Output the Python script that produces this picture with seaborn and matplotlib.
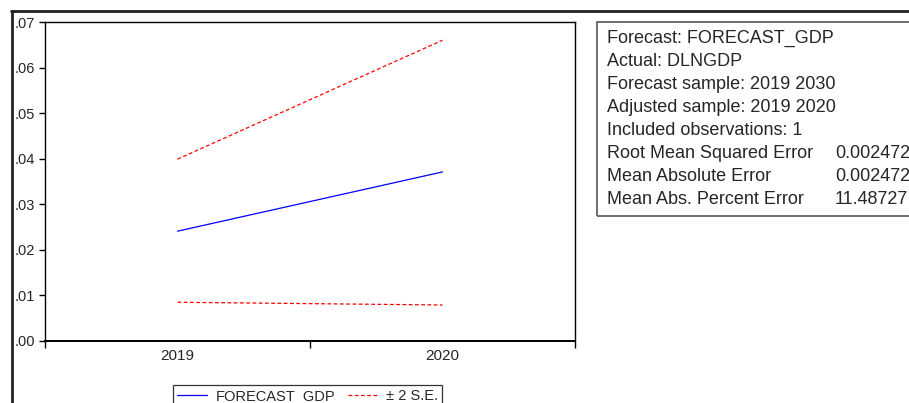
import matplotlib
matplotlib.use("Agg")
import matplotlib.pyplot as plt
from matplotlib.lines import Line2D
from matplotlib.patches import Rectangle
from matplotlib.ticker import FuncFormatter, FixedLocator
import seaborn as sns
import pandas as pd

years = ["2019", "2020"]
forecast_gdp = [0.0241, 0.0371]
upper_band = [0.0399, 0.0660]
lower_band = [0.0085, 0.0079]
y_ticks = [0.00, 0.01, 0.02, 0.03, 0.04, 0.05, 0.06, 0.07]

stats_labels = ["Forecast: FORECAST_GDP", "Actual: DLNGDP", "Forecast sample: 2019 2030",
                "Adjusted sample: 2019 2020", "Included observations: 1",
                "Root Mean Squared Error", "Mean Absolute Error", "Mean Abs. Percent Error"]
stats_values = ["", "", "", "", "", "0.002472", "0.002472", "11.48727"]

sns.set_style("white")
plt.rcParams["font.family"] = ["Liberation Sans", "DejaVu Sans"]

W, H = 909, 403
fig = plt.figure(figsize=(W / 100, H / 100), dpi=100)
ax = fig.add_axes([45 / W, 1 - 341 / H, (575 - 45) / W, (341 - 22) / H])

xpos = list(range(len(years)))
df_f = pd.DataFrame({"x": xpos, "y": forecast_gdp})
df_u = pd.DataFrame({"x": xpos, "y": upper_band})
df_l = pd.DataFrame({"x": xpos, "y": lower_band})

sns.lineplot(data=df_f, x="x", y="y", ax=ax, color="#0000ff", lw=0.9, label="FORECAST_GDP")
sns.lineplot(data=df_u, x="x", y="y", ax=ax, color="#ff0000", lw=0.9, linestyle=(0, (3, 2)),
             label="± 2 S.E.")
sns.lineplot(data=df_l, x="x", y="y", ax=ax, color="#ff0000", lw=0.9, linestyle=(0, (3, 2)))

ax.set_xlim(-0.5, len(years) - 0.5)
ax.set_ylim(0, 0.07)
ax.set_xlabel("")
ax.set_ylabel("")

ax.xaxis.set_major_locator(FixedLocator(xpos))
ax.set_xticklabels(years)
ax.xaxis.set_minor_locator(FixedLocator([-0.5, 0.5, 1.5]))
ax.tick_params(axis="x", which="major", length=0, pad=6, labelsize=11)
ax.tick_params(axis="x", which="minor", bottom=True, length=5, width=1, direction="out", color="black")
ax.set_yticks(y_ticks)
ax.yaxis.set_major_formatter(FuncFormatter(lambda v, p: f"{v:.2f}"[1:] if v >= 0 else f"{v:.2f}"))
ax.tick_params(axis="y", which="major", left=True, length=4, width=1, direction="out",
               color="black", pad=3, labelsize=10.5)
for s in ax.spines.values():
    s.set_color("black")
    s.set_linewidth(1.0)
ax.spines["bottom"].set_linewidth(1.4)

leg = ax.legend(loc="upper left", bbox_to_anchor=(173 / W, 1 - 385 / H), bbox_transform=fig.transFigure,
                ncol=2, frameon=True, fancybox=False, borderaxespad=0, fontsize=10.5,
                handlelength=2.0, columnspacing=0.9, borderpad=0.3, handletextpad=0.6)
leg.get_frame().set_edgecolor("black")
leg.get_frame().set_linewidth(0.9)

# outer frame
fig.add_artist(Line2D([11 / W, 1.0], [1 - 11 / H, 1 - 11 / H], transform=fig.transFigure,
                      color="#222222", lw=2))
fig.add_artist(Line2D([11.5 / W, 11.5 / W], [1 - 11 / H, 0], transform=fig.transFigure,
                      color="#222222", lw=2))

# stats box
fig.add_artist(Rectangle((597 / W, 1 - 216 / H), (940 - 597) / W, (216 - 22) / H,
                         transform=fig.transFigure, fill=False, edgecolor="#555555", lw=1.2))
for i, (lab, val) in enumerate(zip(stats_labels, stats_values)):
    yy = 1 - (38 + i * 23.1) / H
    fig.text(607 / W, yy, lab, fontsize=13, va="center", ha="left")
    if val:
        fig.text(835 / W, yy, val, fontsize=13, va="center", ha="left")

fig.savefig("out.png", dpi=100)
